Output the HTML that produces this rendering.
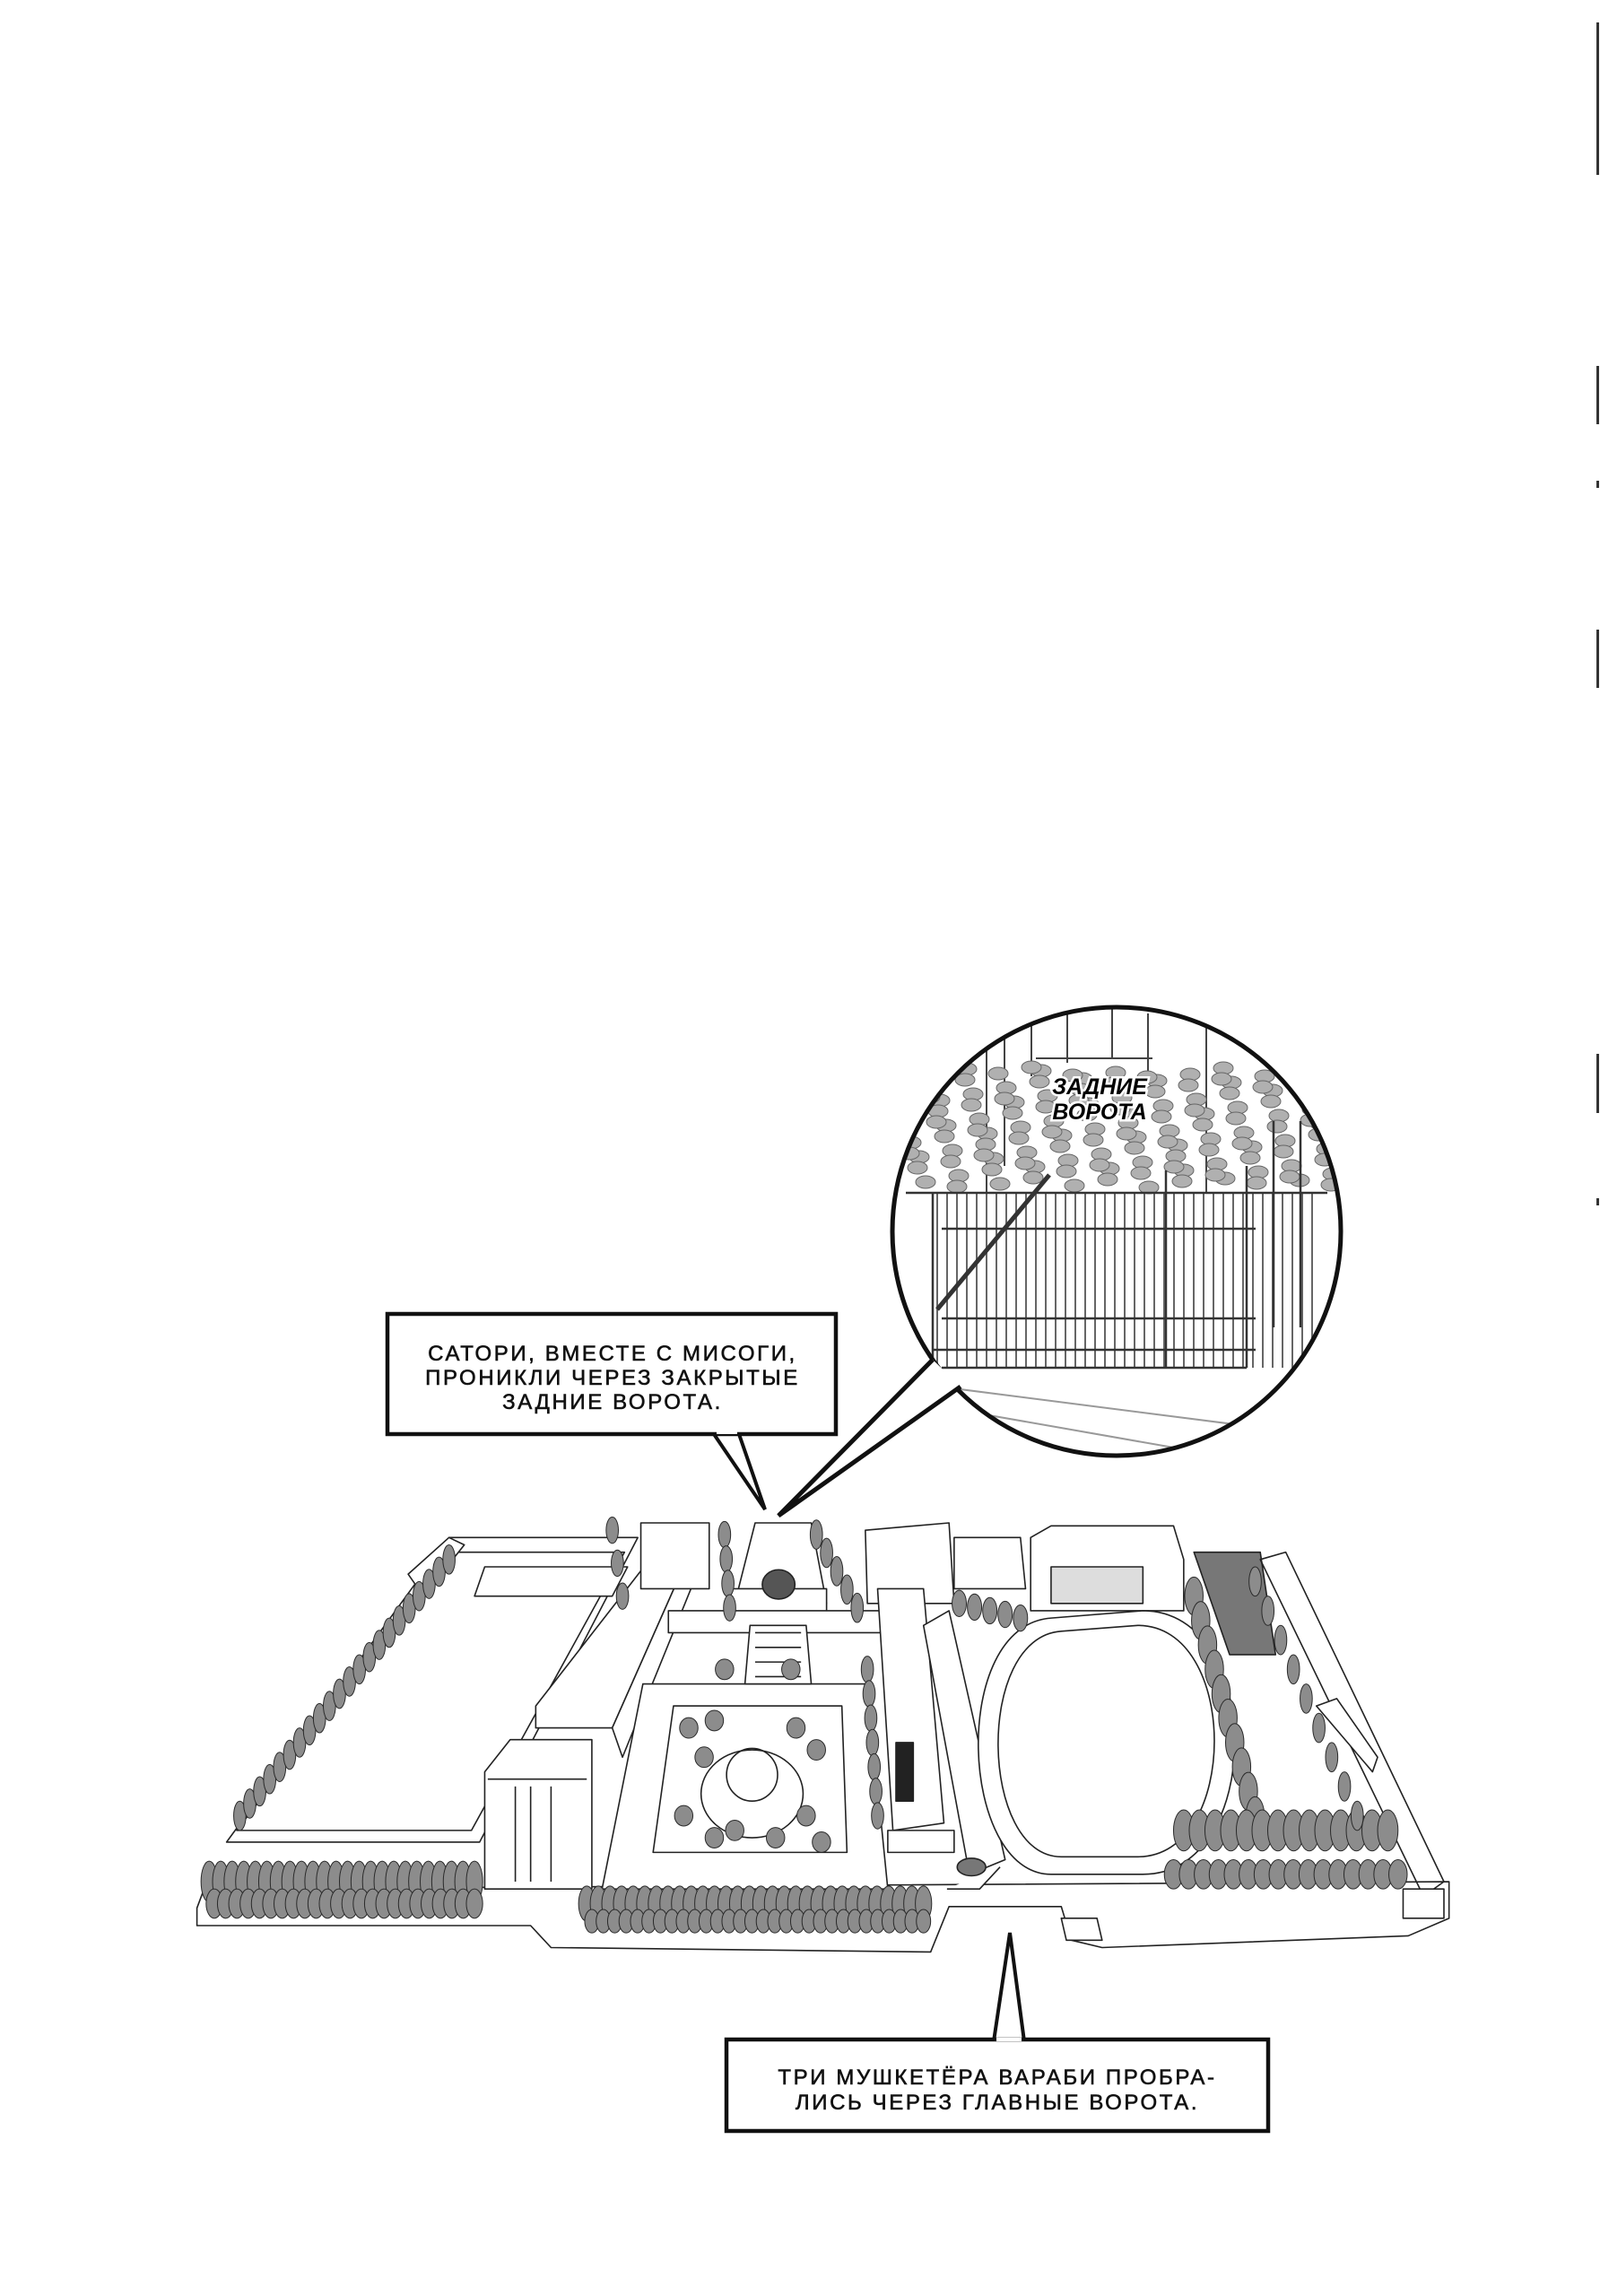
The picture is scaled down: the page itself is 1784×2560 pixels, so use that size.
<!DOCTYPE html>
<html><head><meta charset="utf-8">
<style>
html,body{margin:0;padding:0;background:#fff;}
body{width:1784px;height:2560px;position:relative;overflow:hidden;}
svg{position:absolute;left:0;top:0;}
.cap{font-family:"Liberation Sans",sans-serif;font-size:24px;letter-spacing:2.6px;fill:#111;stroke:#111;stroke-width:0.6px;}
</style></head><body>
<svg id="s" width="1784" height="2560" viewBox="0 0 1784 2560">
<defs><clipPath id="cc"><circle cx="1245" cy="1373" r="250"/></clipPath></defs>
<g fill="#333">
<rect x="1780" y="25" width="3" height="170"/><rect x="1780" y="408" width="3" height="65"/>
<rect x="1780" y="536" width="3" height="8"/><rect x="1780" y="702" width="3" height="65"/>
<rect x="1780" y="1175" width="3" height="66"/><rect x="1780" y="1336" width="3" height="8"/>
</g>

<g clip-path="url(#cc)">
<rect x="990" y="1120" width="510" height="510" fill="#fff"/>
<g stroke="#444" stroke-width="2" fill="none">
<path d="M1150 1120 V1200 M1190 1125 V1185 M1240 1125 V1180 M1280 1130 V1200 M1345 1140 V1330 M1155 1180 H1285 M1100 1140 V1330 M1120 1140 V1300"/>
</g>
<g id="fol" fill="#b0b0b0" stroke="#666" stroke-width="1"></g>
<g id="bars" stroke="#666" stroke-width="2"></g>
<g stroke="#333" stroke-width="2.5" fill="none">
<path d="M1010 1330 H1480 M1050 1370 H1400 M1050 1470 H1400 M1040 1505 H1400 M1050 1525 H1390 M1040 1330 V1525 M1300 1305 V1525 M1390 1300 V1525 M1420 1250 V1480 M1450 1250 V1480"/>
</g>
<path d="M1045 1460 L1170 1310" stroke="#333" stroke-width="5"/>
<path d="M1000 1540 L1470 1600 M1000 1560 L1400 1630" stroke="#999" stroke-width="2"/>
</g>
<circle cx="1245" cy="1373" r="250" fill="none" stroke="#111" stroke-width="5"/>
<path d="M1040 1516 L868 1690 L1071 1546" fill="#fff" stroke="#111" stroke-width="5" stroke-linejoin="miter"/>
<text x="1226" y="1220" text-anchor="middle" font-family="Liberation Sans, sans-serif" font-weight="bold" font-style="italic" font-size="25" fill="#000" stroke="#fff" stroke-width="5" paint-order="stroke">ЗАДНИЕ</text>
<text x="1226" y="1248" text-anchor="middle" font-family="Liberation Sans, sans-serif" font-weight="bold" font-style="italic" font-size="25" fill="#000" stroke="#fff" stroke-width="5" paint-order="stroke">ВОРОТА</text>

<g transform="matrix(1.1378 0 0 1.6327 0 0)">
<g fill="#fff" stroke="#222" stroke-width="1.6" stroke-linejoin="round">
<path vector-effect="non-scaling-stroke" d="M193 1303 L200 1290 L1420 1285 L1420 1310 L1380 1322 L1080 1330 L1050 1325 L1040 1302 L930 1302 L912 1333 L540 1330 L520 1315 L193 1315 Z"/>
<path vector-effect="non-scaling-stroke" d="M222 1258 L440 1050 L625 1050 L470 1258 Z"/>
<path vector-effect="non-scaling-stroke" d="M232 1250 L440 1060 L612 1060 L462 1250 Z" fill="none"/>
<path vector-effect="non-scaling-stroke" d="M400 1075 L440 1050 L455 1055 L415 1090 Z"/>
<path vector-effect="non-scaling-stroke" d="M475 1070 L615 1070 L600 1090 L465 1090 Z"/>
<path vector-effect="non-scaling-stroke" d="M525 1165 L640 1062 L675 1062 L600 1180 L525 1180 Z"/>
<path vector-effect="non-scaling-stroke" d="M600 1180 L675 1062 L680 1080 L610 1200 Z"/>
<path vector-effect="non-scaling-stroke" d="M628 1040 L695 1040 L695 1085 L628 1085 Z"/>
<path vector-effect="non-scaling-stroke" d="M475 1210 L500 1188 L580 1188 L580 1290 L475 1290 Z"/>
<path vector-effect="non-scaling-stroke" d="M478 1215 L575 1215 M505 1220 L505 1285 M520 1220 L520 1285 M540 1220 L540 1285"/>
<path vector-effect="non-scaling-stroke" d="M630 1150 L850 1150 L870 1290 L590 1290 Z"/>
<path vector-effect="non-scaling-stroke" d="M660 1165 L825 1165 L830 1265 L640 1265 Z"/>
<ellipse vector-effect="non-scaling-stroke" cx="737" cy="1212" rx="25" ry="18"/>
<ellipse vector-effect="non-scaling-stroke" cx="737" cy="1225" rx="50" ry="30" fill="none"/>
<path vector-effect="non-scaling-stroke" d="M740 1040 L795 1040 L810 1095 L720 1095 Z"/>
<path vector-effect="non-scaling-stroke" d="M715 1085 L810 1085 L810 1110 L715 1110 Z"/>
<ellipse vector-effect="non-scaling-stroke" cx="763" cy="1082" rx="16" ry="10" fill="#555"/>
<path vector-effect="non-scaling-stroke" d="M655 1100 L870 1100 L870 1115 L655 1115 Z"/>
<path vector-effect="non-scaling-stroke" d="M735 1110 L790 1110 L795 1150 L730 1150 Z"/>
<path vector-effect="non-scaling-stroke" d="M740 1115 L785 1115 M740 1125 L785 1125 M740 1135 L785 1135 M740 1145 L785 1145"/>
<path vector-effect="non-scaling-stroke" d="M848 1045 L930 1040 L935 1095 L850 1095 Z"/>
<path vector-effect="non-scaling-stroke" d="M935 1050 L1000 1050 L1005 1085 L935 1085 Z"/>
<path vector-effect="non-scaling-stroke" d="M860 1085 L905 1085 L925 1245 L875 1250 Z"/>
<path vector-effect="non-scaling-stroke" d="M870 1250 L935 1250 L935 1265 L870 1265 Z"/>
<rect vector-effect="non-scaling-stroke" x="878" y="1190" width="17" height="40" fill="#222"/>
<path vector-effect="non-scaling-stroke" d="M905 1110 L930 1100 L985 1270 L950 1280 Z"/>
<path vector-effect="non-scaling-stroke" d="M1010 1050 L1030 1042 L1150 1042 L1160 1065 L1160 1100 L1010 1100 Z"/>
<path vector-effect="non-scaling-stroke" d="M1030 1070 L1120 1070 L1120 1095 L1030 1095 Z" fill="#ddd"/>
<path vector-effect="non-scaling-stroke" d="M1120 1100 C1240 1100 1240 1280 1120 1280 L1030 1280 C940 1280 930 1110 1030 1105 Z" fill="#fff"/>
<path vector-effect="non-scaling-stroke" d="M1115 1110 C1215 1110 1215 1268 1115 1268 L1040 1268 C960 1268 955 1118 1040 1114 Z" fill="none"/>
<path vector-effect="non-scaling-stroke" d="M1170 1060 L1235 1060 L1250 1130 L1205 1130 Z" fill="#777"/>
<path vector-effect="non-scaling-stroke" d="M1235 1065 L1260 1060 L1415 1285 L1395 1295 Z" fill="none"/>
<path vector-effect="non-scaling-stroke" d="M1290 1165 L1310 1160 L1350 1200 L1345 1210 Z"/>
<path vector-effect="non-scaling-stroke" d="M928 1290 L960 1290 L980 1275 M1040 1310 L1075 1310 L1080 1325 L1045 1325 Z"/>
<ellipse vector-effect="non-scaling-stroke" cx="952" cy="1275" rx="14" ry="6" fill="#777"/>
<path vector-effect="non-scaling-stroke" d="M1375 1290 L1415 1290 L1415 1310 L1375 1310 Z"/>
</g>
<g id="trees" fill="#8c8c8c" stroke="#2a2a2a" stroke-width="1"></g>
</g>

<path d="M796 1599 L853 1683 L824 1599" fill="#fff" stroke="#111" stroke-width="4"/>
<rect x="432" y="1465" width="500" height="134" fill="#fff" stroke="#111" stroke-width="4.5"/>
<rect x="799" y="1595" width="23" height="4" fill="#fff"/>
<text class="cap" text-anchor="middle"><tspan x="683" y="1517">САТОРИ, ВМЕСТЕ С МИСОГИ,</tspan><tspan x="683" y="1544">ПРОНИКЛИ ЧЕРЕЗ ЗАКРЫТЫЕ</tspan><tspan x="683" y="1571">ЗАДНИЕ ВОРОТА.</tspan></text>

<path d="M1108 2276 L1126 2155 L1142 2276" fill="#fff" stroke="#111" stroke-width="4"/>
<rect x="810" y="2274" width="604" height="102" fill="#fff" stroke="#111" stroke-width="4.5"/>
<rect x="1111" y="2272" width="28" height="4" fill="#fff"/>
<text class="cap" text-anchor="middle"><tspan x="1112" y="2324">ТРИ МУШКЕТЁРА ВАРАБИ ПРОБРА-</tspan><tspan x="1112" y="2352">ЛИСЬ ЧЕРЕЗ ГЛАВНЫЕ ВОРОТА.</tspan></text>
</svg>
<script>
var NS="http://www.w3.org/2000/svg";
function el(p,t,a){var e=document.createElementNS(NS,t);for(var k in a)e.setAttribute(k,a[k]);p.appendChild(e);return e;}
var T=document.getElementById("trees");
function row(x1,y1,x2,y2,n,rx,ry){for(var i=0;i<n;i++){var t=n>1?i/(n-1):0;el(T,"ellipse",{cx:x1+(x2-x1)*t,cy:y1+(y2-y1)*t,rx:rx,ry:ry,"vector-effect":"non-scaling-stroke"});}}
row(205,1285,465,1285,24,8,14);
row(210,1300,465,1300,24,8,10);
row(235,1240,440,1065,22,6,10);
row(575,1300,905,1300,30,8,12);
row(580,1312,905,1312,30,7,8);
row(710,1048,715,1098,4,6,9);
row(800,1048,840,1098,5,6,10);
row(600,1045,610,1090,3,6,9);
row(1170,1090,1230,1240,10,9,13);
row(1160,1250,1360,1250,14,10,14);
row(1150,1280,1370,1280,16,9,10);
row(1230,1080,1330,1240,9,6,10);
row(850,1140,860,1240,7,6,9);
row(940,1095,1000,1105,5,7,9);
[[675,1180],[700,1175],[690,1200],[780,1180],[800,1195],[670,1240],[700,1255],[790,1240],[805,1258],[720,1250],[760,1255],[710,1140],[775,1140]].forEach(function(p){el(T,"ellipse",{cx:p[0],cy:p[1],rx:9,ry:7,"vector-effect":"non-scaling-stroke"});});
var F=document.getElementById("fol");
for(var i=0;i<140;i++){var x=995+((i*53)%500),y=1190+((i*37)%135);el(F,"ellipse",{cx:x,cy:y,rx:11,ry:7});}
var B=document.getElementById("bars");
for(var x=1045;x<1470;x+=11){el(B,"line",{x1:x,y1:1330,x2:x,y2:1525});}
</script>
</body></html>
